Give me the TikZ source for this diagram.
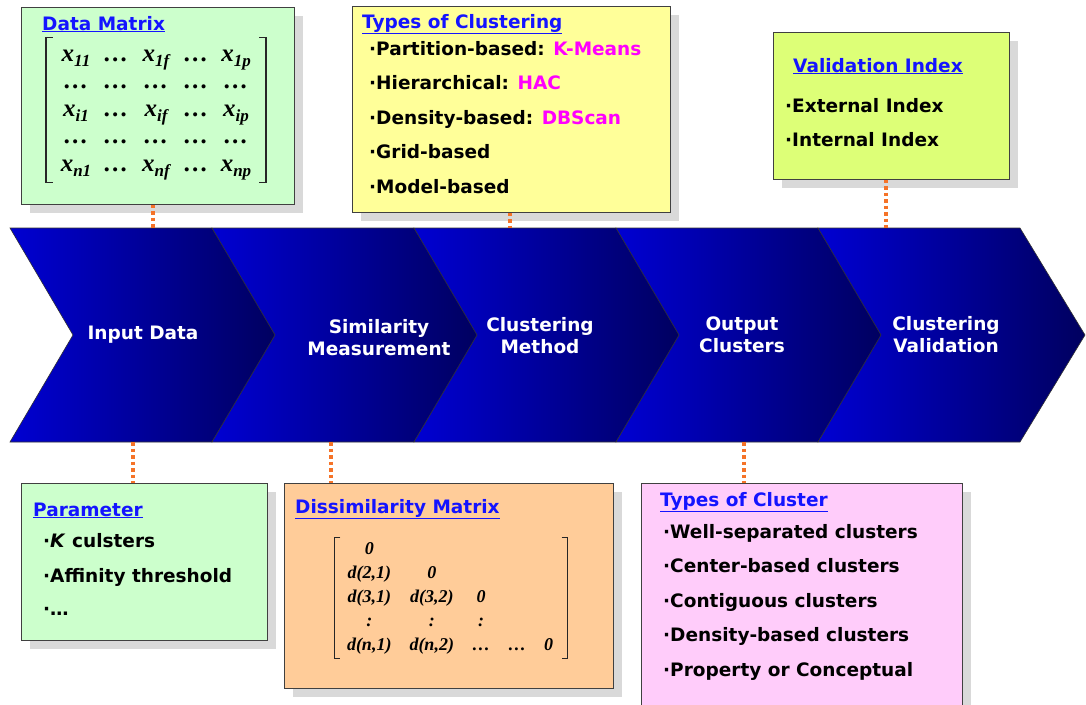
\documentclass[tikz,border=0pt]{standalone}
\usepackage{fontspec}
\setmainfont{DejaVu Sans}
\newfontfamily\matfont{Liberation Serif}
\usetikzlibrary{positioning,shadows,matrix}
\definecolor{chevlight}{RGB}{0,0,210}
\definecolor{chevdark}{RGB}{0,0,95}
\definecolor{boxgreen}{RGB}{204,255,204}
\definecolor{boxyellow}{RGB}{255,255,153}
\definecolor{boxlime}{RGB}{221,255,119}
\definecolor{boxorange}{RGB}{255,204,153}
\definecolor{boxpink}{RGB}{255,204,250}
\definecolor{linkorange}{RGB}{245,115,40}
\definecolor{titleblue}{RGB}{20,20,255}
\definecolor{hlpink}{RGB}{255,0,255}
\newcommand{\itemfont}{\fontsize{18.5}{22}\selectfont\bfseries}
\newcommand{\chevfont}{\fontsize{18.5}{22}\selectfont\bfseries}
\newcommand{\hl}[1]{\textcolor{hlpink}{#1}}
\newcommand{\sx}[1]{x\raisebox{-5pt}{\fontsize{17}{17}\selectfont #1}}

\begin{document}
\begin{tikzpicture}[x=1pt,y=-1pt,
    chev/.style={draw=black!80, line width=0.6pt, left color=chevlight, right color=chevdark},
    chevtext/.style={text=white, font=\chevfont, align=center, inner sep=0},
    infobox/.style={draw=black!75, line width=1pt, fill=#1, inner sep=0,
        drop shadow={shadow xshift=9pt, shadow yshift=-9pt, fill=black!15, opacity=1}},
    boxtitle/.style={anchor=base west, inner sep=0, text=titleblue, font=\itemfont},
    item/.style={anchor=base west, inner sep=0, font=\itemfont},
    link/.style={draw=linkorange, line width=3.5pt, dash pattern=on 3.5pt off 3pt},
    bracket/.style={draw=black!85, line width=1.6pt},
    dmcell/.style={inner sep=0, minimum width=37, text height=16, text depth=6, font=\fontsize{25}{25}\selectfont\matfont\bfseries\itshape},
    dscell/.style={inner sep=0, text height=13, text depth=5, font=\fontsize{18}{18}\selectfont\matfont\bfseries\itshape}
]
\useasboundingbox (0,0) rectangle (1086,704);

% process chevrons
\foreach \xa in {10,212,414,616,818}
    \shadedraw[chev] (\xa,228) -- ++(202,0) -- ++(65,107) -- ++(-65,107) -- ++(-202,0) -- ++(63,-107) -- cycle;

\node[chevtext] (indata) at (143,335) {Input Data};
\node[chevtext] (simmeas) at (379,338) {Similarity\\Measurement};
\node[chevtext] (clmeth) at (540,336) {Clustering\\Method};
\node[chevtext] (outcl) at (742,335) {Output\\Clusters};
\node[chevtext] (clval) at (946,335) {Clustering\\Validation};

% link ends on the band
\coordinate (l1) at (153,228);
\coordinate (l2) at (510,228);
\coordinate (l3) at (886,228);
\coordinate (l4) at (133,442);
\coordinate (l5) at (331,442);
\coordinate (l6) at (744,442);

% top boxes
\node[infobox=boxgreen, minimum width=273, minimum height=197] (dmbox) at (157.5,105.5) {};
\node[boxtitle] (dmtitle) at (42,30) {\underline{Data Matrix}};
\matrix[matrix of nodes, nodes={dmcell}, column sep=3, row sep=5.5] (dmat) at (156,111) {
    \sx{11} & \ldots & \sx{1f} & \ldots & \sx{1p}\\
    \ldots & \ldots & \ldots & \ldots & \ldots\\
    \sx{i1} & \ldots & \sx{if} & \ldots & \sx{ip}\\
    \ldots & \ldots & \ldots & \ldots & \ldots\\
    \sx{n1} & \ldots & \sx{nf} & \ldots & \sx{np}\\
};
\draw[bracket] ([xshift=-1,yshift=4]dmat.north west) -- ++(-7,0) |- ([xshift=-1,yshift=-2]dmat.south west);
\draw[bracket] ([xshift=1,yshift=4]dmat.north east) -- ++(7,0) |- ([xshift=1,yshift=-2]dmat.south east);

\node[infobox=boxyellow, minimum width=318, minimum height=206] (tcbox) at (511,109) {};
\node[boxtitle] (tctitle) at (362,28) {\underline{Types of Clustering}};
\foreach \t [count=\i] in {{Partition-based: \hl{K-Means}},{Hierarchical: \hl{HAC}},{Density-based: \hl{DBScan}},Grid-based,Model-based}
    \node[item] (tc\i) at (369,{55+34.5*(\i-1)}) {·\t};

\node[infobox=boxlime, minimum width=236, minimum height=147] (vibox) at (891,105.5) {};
\node[boxtitle] (vititle) at (793,72) {\underline{Validation Index}};
\node[item] (vi1) at (785,112) {·External Index};
\node[item] (vi2) at (785,146) {·Internal Index};

% bottom boxes
\node[infobox=boxgreen, minimum width=246, minimum height=157] (pmbox) at (144,561.5) {};
\node[boxtitle] (pmtitle) at (33,516) {\underline{Parameter}};
\node[item] (pm1) at (43,547) {·\textit{K} culsters};
\node[item] (pm2) at (43,582) {·Affinity threshold};
\node[item] (pm3) at (43,615) {·\ldots};

\node[infobox=boxorange, minimum width=329, minimum height=205] (dsbox) at (448.5,585.5) {};
\node[boxtitle] (dstitle) at (295,513) {\underline{Dissimilarity Matrix}};
\matrix[matrix of nodes, nodes={dscell}, column sep=18, row sep=6] (dsmat) at (450,598) {
    0 & & & & \\
    d(2,1) & 0 & & & \\
    d(3,1) & d(3,2) & 0 & & \\
    : & : & : & & \\
    d(n,1) & d(n,2) & \ldots & \ldots & 0\\
};
\draw[bracket] ([xshift=-3]dsmat.north west) -- ++(-6,0) |- ([xshift=-3]dsmat.south west);
\draw[bracket] ([xshift=5]dsmat.north east) -- ++(6,0) |- ([xshift=5]dsmat.south east);

\node[infobox=boxpink, minimum width=321, minimum height=237] (tybox) at (801.5,601.5) {};
\node[boxtitle] (tytitle) at (660,506) {\underline{Types of Cluster}};
\foreach \t [count=\i] in {Well-separated clusters,Center-based clusters,Contiguous clusters,Density-based clusters,Property or Conceptual}
    \node[item] (ty\i) at (663,{538+34.5*(\i-1)}) {·\t};

% dotted links
\draw[link] (dmbox.south -| l1) -- (l1);
\draw[link] (tcbox.south -| l2) -- (l2);
\draw[link] (vibox.south -| l3) -- (l3);
\draw[link] (l4) -- (pmbox.north -| l4);
\draw[link] (l5) -- (dsbox.north -| l5);
\draw[link] (l6) -- (tybox.north -| l6);
\end{tikzpicture}
\end{document}
